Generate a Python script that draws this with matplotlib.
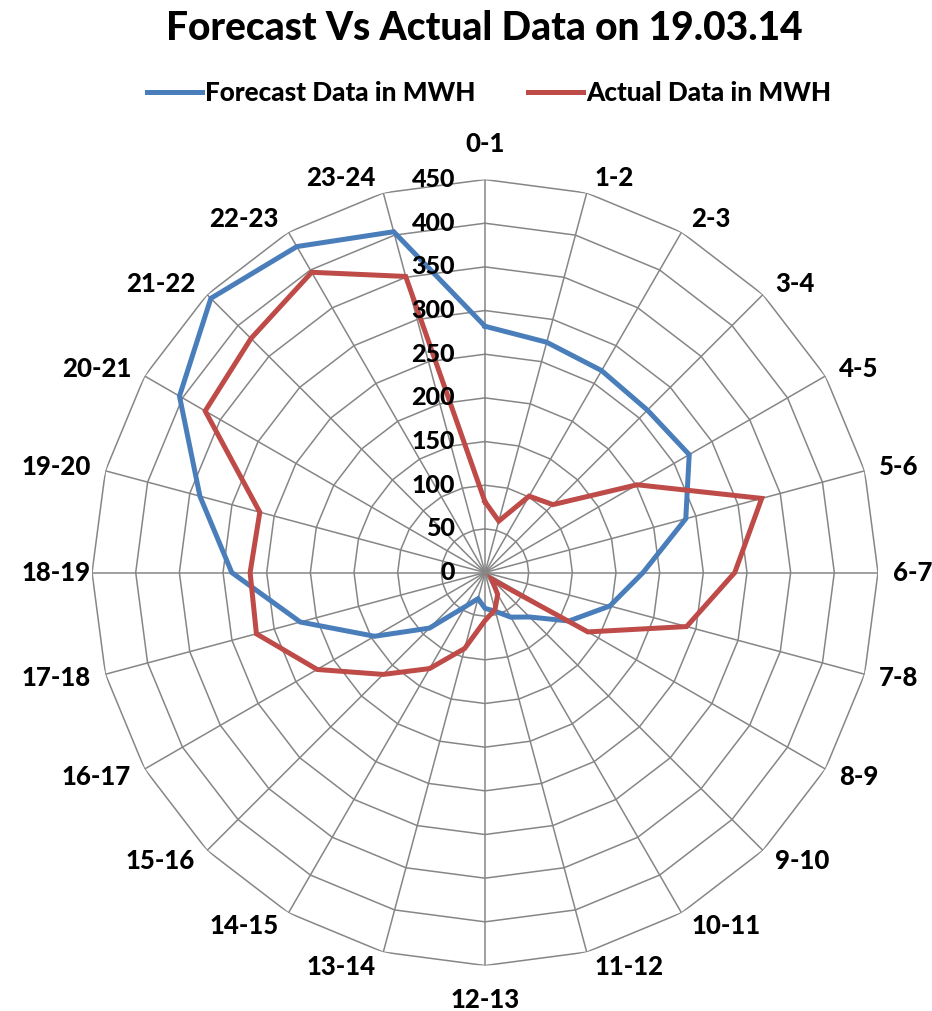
import numpy as np
import matplotlib
matplotlib.use("Agg")
import matplotlib.pyplot as plt
from matplotlib.lines import Line2D
from matplotlib.transforms import offset_copy

categories = ["0-1", "1-2", "2-3", "3-4", "4-5", "5-6", "6-7", "7-8", "8-9", "9-10",
              "10-11", "11-12", "12-13", "13-14", "14-15", "15-16", "16-17", "17-18",
              "18-19", "19-20", "20-21", "21-22", "22-23", "23-24"]
forecast = [282, 273, 267, 263, 270, 238, 181, 148, 111, 72,
            59, 46, 41, 31, 45, 90, 146, 219, 290, 338, 404, 444, 431, 404]
actual = [81, 61, 101, 110, 201, 328, 286, 239, 136, 11,
          29, 44, 55, 90, 127, 165, 222, 271, 269, 267, 370, 379, 397, 351]
r_ticks = [0, 50, 100, 150, 200, 250, 300, 350, 400, 450]
series_names = ["Forecast Data in MWH", "Actual Data in MWH"]
title = "Forecast Vs Actual Data on 19.03.14"

FONT = "Lato"
WEIGHT = "black"
GRID = "#868686"
BLUE = "#4A7EBB"
RED = "#BE4B48"

fig = plt.figure(figsize=(9.32, 10.11), dpi=100)
ax = fig.add_axes([0.0987, 0.045, 0.8434, 0.7774], projection="polar")
ax.set_theta_zero_location("N")
ax.set_theta_direction(-1)
rmax = max(r_ticks)
ax.set_ylim(0, rmax)
ax.grid(False)
ax.spines["polar"].set_visible(False)
ax.set_yticks([])
ax.set_xticks([])

n = len(categories)
theta = np.arange(n) * 2 * np.pi / n
theta_c = np.append(theta, theta[0])

# polygon gridlines
for r in r_ticks[1:]:
    ax.plot(theta_c, [r] * (n + 1), color=GRID, lw=1.1, zorder=1)
for t in theta:
    ax.plot([t, t], [0, rmax], color=GRID, lw=1.1, zorder=1)

# data
ax.plot(theta_c, forecast + forecast[:1], color=BLUE, lw=3.6, zorder=3,
        solid_joinstyle="miter")
ax.plot(theta_c, actual + actual[:1], color=RED, lw=3.6, zorder=3,
        solid_joinstyle="miter")

# category labels (Excel-like placement next to the outer vertices)
fig.canvas.draw()
renderer = fig.canvas.get_renderer()
for t, lab in zip(theta, categories):
    s, c = np.sin(t), np.cos(t)
    if abs(s) < 1e-6:
        ha, dx, dy = "center", 0.0, (36.0 if c > 0 else -34.0)
    else:
        ha = "left" if s > 0 else "right"
        dx = (5 + 10 * abs(s)) * np.sign(s)
        dy = 15 * c
    txt = ax.text(t, rmax, lab, ha=ha, va="center", fontsize=18.5,
                  fontweight=WEIGHT, family=FONT,
                  transform=offset_copy(ax.transData, fig=fig, x=dx, y=dy, units="dots"))
    bb = txt.get_window_extent(renderer)
    if bb.x0 < 22:
        txt.set_transform(offset_copy(ax.transData, fig=fig, x=dx + 22 - bb.x0,
                                      y=dy, units="dots"))

# radial labels
tr = offset_copy(ax.transData, fig=fig, x=-30, y=0, units="dots")
for r in r_ticks:
    ax.text(0, r, str(r), transform=tr, ha="right", va="center",
            fontsize=18, fontweight=WEIGHT, family=FONT, zorder=4)

fig.text(0.52, 0.972, title, ha="center", va="center", fontsize=28,
         fontweight=WEIGHT, family=FONT)

handles = [Line2D([], [], color=BLUE, lw=3.6), Line2D([], [], color=RED, lw=3.6)]
fig.legend(handles, series_names, loc="center", bbox_to_anchor=(0.525, 0.908),
           ncol=2, frameon=False, handlelength=2.1, handletextpad=0.12,
           columnspacing=2.0, prop={"family": FONT, "weight": WEIGHT, "size": 18.8})

fig.savefig("out.png", dpi=100)
